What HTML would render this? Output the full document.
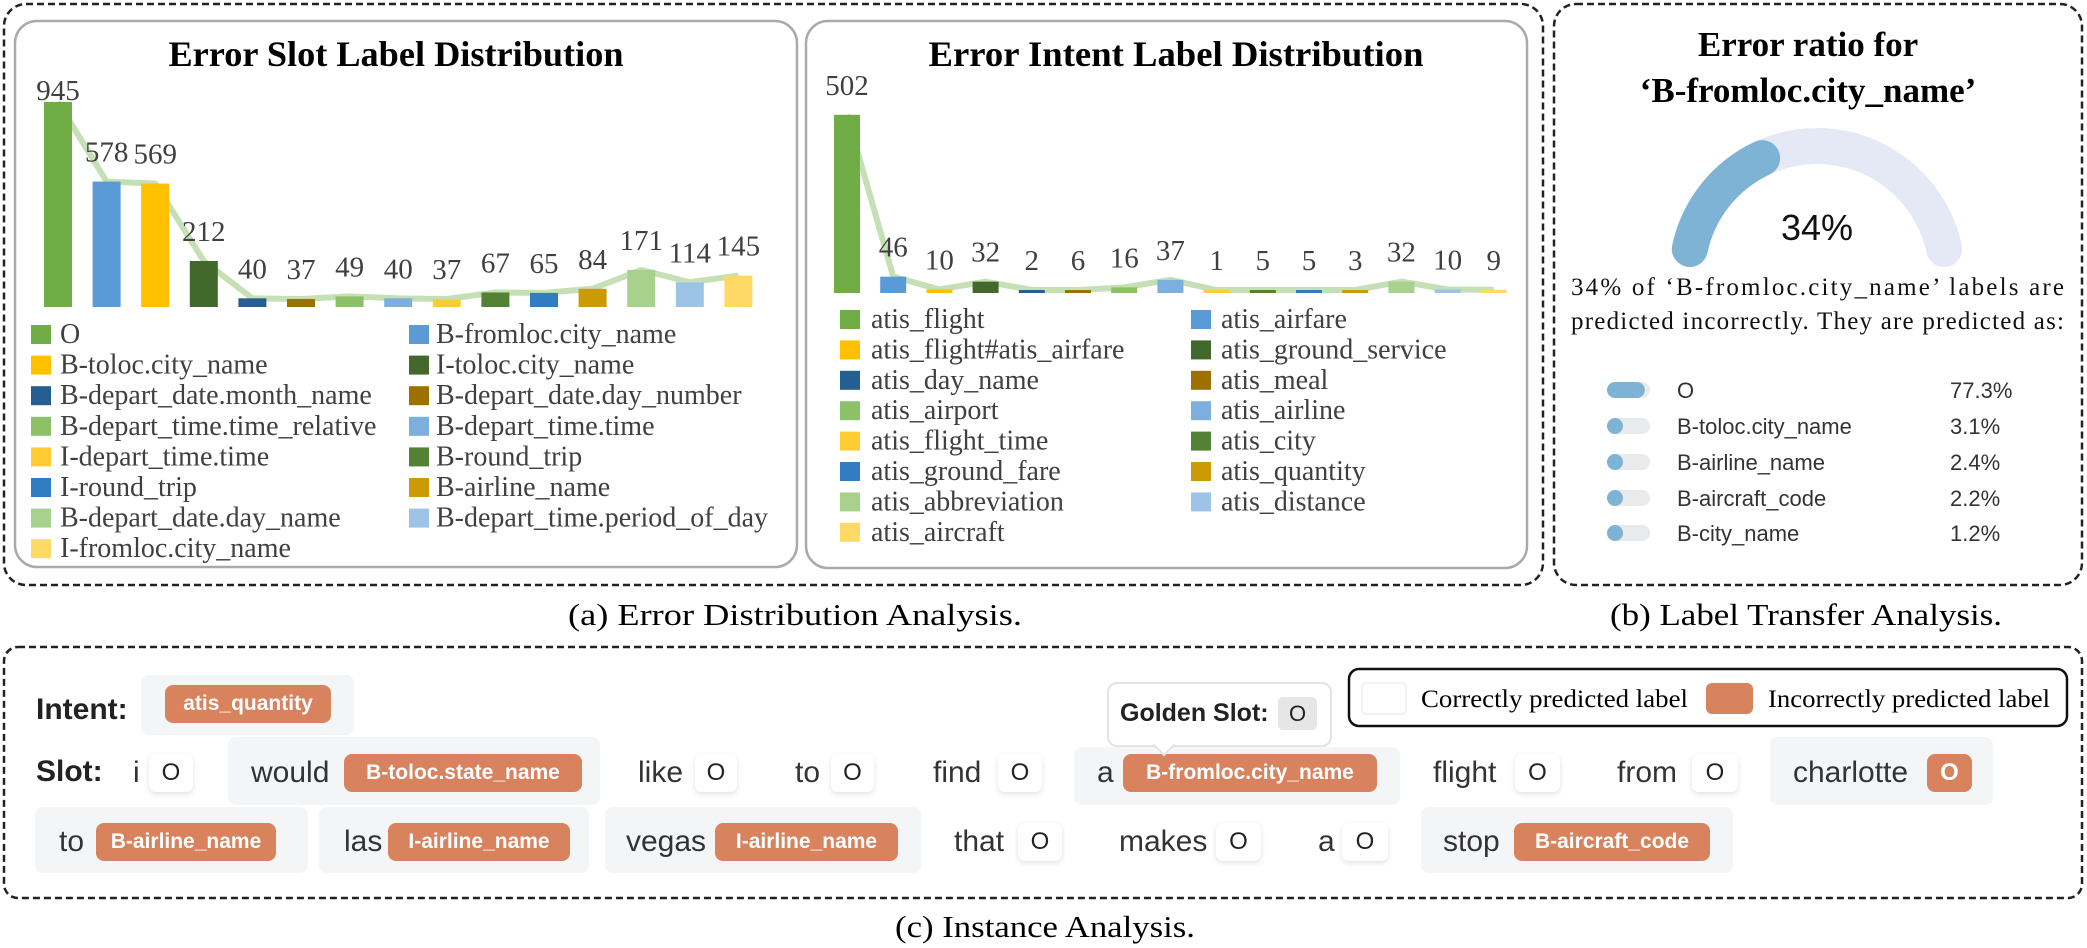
<!DOCTYPE html>
<html><head><meta charset="utf-8">
<style>
html,body{margin:0;padding:0;background:#fff;}
body{width:2087px;height:948px;position:relative;overflow:hidden;font-family:"Liberation Sans",sans-serif;}
svg{position:absolute;left:0;top:0;}
.grp{position:absolute;background:#f4f5f7;border-radius:8px;}
.w{position:absolute;font-size:30px;line-height:38px;height:38px;color:#333;white-space:nowrap;}
.b{position:absolute;font-weight:bold;font-size:30px;line-height:38px;color:#222;white-space:nowrap;}
.ok{position:absolute;background:#fff;border-radius:7px;box-shadow:0 2px 6px rgba(0,0,0,0.12);font-size:24px;line-height:38px;height:38px;text-align:center;color:#222;}
.bad{position:absolute;background:#d9825e;border-radius:8px;font-weight:bold;font-size:21px;line-height:38px;height:38px;text-align:center;color:#fff;white-space:nowrap;}
</style></head>
<body>
<svg id="main" width="2087" height="948" viewBox="0 0 2087 948">
  <rect x="4" y="4" width="1539" height="581" rx="22" fill="none" stroke="#222" stroke-width="2.5" stroke-dasharray="7,4"/>
  <rect x="1554" y="4" width="528" height="581" rx="22" fill="none" stroke="#222" stroke-width="2.5" stroke-dasharray="7,4"/>
  <rect x="4" y="647" width="2078" height="251" rx="14" fill="none" stroke="#222" stroke-width="2.5" stroke-dasharray="7,4"/>
  <rect x="15" y="21" width="782" height="546" rx="22" fill="#fff" stroke="#aaa" stroke-width="2.5"/>
  <rect x="806" y="21" width="721" height="547" rx="22" fill="#fff" stroke="#aaa" stroke-width="2.5"/>
  <text x="396" y="66" text-anchor="middle" font-family="Liberation Serif" font-weight="bold" font-size="36" textLength="455" lengthAdjust="spacingAndGlyphs">Error Slot Label Distribution</text>
  <text x="1176" y="66" text-anchor="middle" font-family="Liberation Serif" font-weight="bold" font-size="36" textLength="495" lengthAdjust="spacingAndGlyphs">Error Intent Label Distribution</text>
  <g id="slotLine"></g><g id="slotBars"></g><g id="slotLegend"></g>
  <g id="intLine"></g><g id="intBars"></g><g id="intLegend"></g>
  <text x="1808" y="56" text-anchor="middle" font-family="Liberation Serif" font-weight="bold" font-size="35">Error ratio for</text>
  <text x="1808" y="102" text-anchor="middle" font-family="Liberation Serif" font-weight="bold" font-size="35">‘B-fromloc.city_name’</text>
  <g id="gauge"></g>
  <text x="1817" y="240" text-anchor="middle" font-family="Liberation Sans" font-size="36" fill="#111">34%</text>
  <text x="1571" y="295" font-family="Liberation Serif" font-size="25" fill="#111" textLength="493" lengthAdjust="spacing">34% of ‘B-fromloc.city_name’ labels are</text>
  <text x="1571" y="329" font-family="Liberation Serif" font-size="25" fill="#111" textLength="493" lengthAdjust="spacing">predicted incorrectly.  They are predicted as:</text>
  <g id="transferList"></g>
  <text x="795" y="625" text-anchor="middle" font-family="Liberation Serif" font-size="31" textLength="454" lengthAdjust="spacingAndGlyphs">(a) Error Distribution Analysis.</text>
  <text x="1806" y="625" text-anchor="middle" font-family="Liberation Serif" font-size="31" textLength="392" lengthAdjust="spacingAndGlyphs">(b) Label Transfer Analysis.</text>
  <text x="1045" y="937" text-anchor="middle" font-family="Liberation Serif" font-size="31" textLength="300" lengthAdjust="spacingAndGlyphs">(c) Instance Analysis.</text>
  <rect x="1349" y="669" width="718" height="57" rx="10" fill="#fff" stroke="#111" stroke-width="2.5"/>
  <rect x="1362" y="683" width="44" height="31" rx="5" fill="#fff" stroke="#eee" stroke-width="1.5"/>
  <text x="1421" y="707" font-family="Liberation Serif" font-size="25" textLength="267" lengthAdjust="spacingAndGlyphs">Correctly  predicted label</text>
  <rect x="1706" y="683" width="47" height="31" rx="6" fill="#d9825e"/>
  <text x="1768" y="707" font-family="Liberation Serif" font-size="25" textLength="282" lengthAdjust="spacingAndGlyphs">Incorrectly  predicted label</text>
</svg>

<div class="b" style="left:36px;top:691px">Intent:</div>
<div class="grp" style="left:141px;top:675px;width:213px;height:60px"></div>
<div class="bad" style="left:165px;top:685px;width:166px">atis_quantity</div>

<div class="b" style="left:36px;top:753px">Slot:</div>
<div class="w" style="left:133px;top:754px">i</div>
<div class="ok" style="left:149px;top:754px;width:44px">O</div>
<div class="grp" style="left:228px;top:737px;width:372px;height:68px"></div>
<div class="w" style="left:251px;top:754px">would</div>
<div class="bad" style="left:344px;top:754px;width:238px">B-toloc.state_name</div>
<div class="w" style="left:638px;top:754px">like</div>
<div class="ok" style="left:695px;top:754px;width:42px">O</div>
<div class="w" style="left:795px;top:754px">to</div>
<div class="ok" style="left:831px;top:754px;width:43px">O</div>
<div class="w" style="left:933px;top:754px">find</div>
<div class="ok" style="left:998px;top:754px;width:44px">O</div>
<div class="grp" style="left:1074px;top:747px;width:326px;height:58px"></div>
<div class="w" style="left:1097px;top:754px">a</div>
<div class="bad" style="left:1123px;top:754px;width:254px">B-fromloc.city_name</div>
<div class="w" style="left:1433px;top:754px">flight</div>
<div class="ok" style="left:1515px;top:754px;width:45px">O</div>
<div class="w" style="left:1617px;top:754px">from</div>
<div class="ok" style="left:1692px;top:754px;width:46px">O</div>
<div class="grp" style="left:1770px;top:737px;width:223px;height:68px"></div>
<div class="w" style="left:1793px;top:754px">charlotte</div>
<div class="bad" style="left:1927px;top:754px;width:45px;font-size:24px">O</div>

<div style="position:absolute;left:1107px;top:682px;width:221px;height:61px;background:#fff;border:2px solid #e4e4e4;border-radius:10px;"></div>
<div style="position:absolute;left:1156px;top:737px;width:14px;height:14px;background:#fff;border-right:2px solid #e4e4e4;border-bottom:2px solid #e4e4e4;transform:rotate(45deg);"></div>
<div class="b" style="left:1120px;top:694px;font-size:25px">Golden Slot:</div>
<div style="position:absolute;left:1278px;top:697px;width:39px;height:33px;background:#e6e6e6;border-radius:5px;font-size:22px;line-height:33px;text-align:center;color:#222">O</div>

<div class="grp" style="left:35px;top:807px;width:273px;height:66px"></div>
<div class="w" style="left:59px;top:823px">to</div>
<div class="bad" style="left:96px;top:823px;width:180px">B-airline_name</div>
<div class="grp" style="left:319px;top:807px;width:270px;height:66px"></div>
<div class="w" style="left:344px;top:823px">las</div>
<div class="bad" style="left:388px;top:823px;width:182px">I-airline_name</div>
<div class="grp" style="left:605px;top:807px;width:316px;height:66px"></div>
<div class="w" style="left:626px;top:823px">vegas</div>
<div class="bad" style="left:715px;top:823px;width:183px">I-airline_name</div>
<div class="w" style="left:954px;top:823px">that</div>
<div class="ok" style="left:1018px;top:823px;width:44px">O</div>
<div class="w" style="left:1119px;top:823px">makes</div>
<div class="ok" style="left:1216px;top:823px;width:45px">O</div>
<div class="w" style="left:1318px;top:823px">a</div>
<div class="ok" style="left:1342px;top:823px;width:46px">O</div>
<div class="grp" style="left:1421px;top:807px;width:312px;height:66px"></div>
<div class="w" style="left:1443px;top:823px">stop</div>
<div class="bad" style="left:1514px;top:823px;width:196px">B-aircraft_code</div>

<script>
const NS = "http://www.w3.org/2000/svg";
const palette = ["#70ad47","#5b9bd5","#ffc000","#43682b","#255e91","#9e7000","#8cc168","#7cafdd","#ffcd33","#548235","#327dc2","#cc9a06","#a9d18e","#9dc3e6","#ffd966"];
const slotLabels = ["O","B-fromloc.city_name","B-toloc.city_name","I-toloc.city_name","B-depart_date.month_name","B-depart_date.day_number","B-depart_time.time_relative","B-depart_time.time","I-depart_time.time","B-round_trip","I-round_trip","B-airline_name","B-depart_date.day_name","B-depart_time.period_of_day","I-fromloc.city_name"];
const slotValues = [945,578,569,212,40,37,49,40,37,67,65,84,171,114,145];
const intentLabels = ["atis_flight","atis_airfare","atis_flight#atis_airfare","atis_ground_service","atis_day_name","atis_meal","atis_airport","atis_airline","atis_flight_time","atis_city","atis_ground_fare","atis_quantity","atis_abbreviation","atis_distance","atis_aircraft"];
const intentValues = [502,46,10,32,2,6,16,37,1,5,5,3,32,10,9];
const errorRatio = [34];
const transferLabels = ["O","B-toloc.city_name","B-airline_name","B-aircraft_code","B-city_name"];
const transferValues = [77.3,3.1,2.4,2.2,1.2];

function mk(tag, attrs, parent){const e=document.createElementNS(NS,tag);for(const k in attrs)e.setAttribute(k,attrs[k]);parent.appendChild(e);return e;}

function drawChart(cfg){
  const {labels,values,x0,step,bw,base,scale,labelMin,lineG,barG,legG,legY0,legStep,col1Sq,col1Tx,col2Sq,col2Tx,prefix} = cfg;
  const xS = i => x0 + i*step;
  const yS = v => base - Math.max(v*scale, 3);
  const pts = values.map((v,i)=> (xS(i)+bw/2)+","+yS(v)).join(" ");
  const pl = mk("polyline",{points:pts,fill:"none",stroke:"#c5e0b4","stroke-width":6,"stroke-linejoin":"round"},lineG);
  
  
  values.forEach((v,i)=>{
    const r = mk("rect",{x:xS(i),y:yS(v),width:bw,height:base-yS(v),fill:palette[i]},barG);
    
    
    const t = mk("text",{x:xS(i)+bw/2,y:Math.max(yS(v)-20,labelMin),"text-anchor":"middle","font-family":"Liberation Serif","font-size":29,fill:"#404040"},barG);
    t.textContent = v;
    
    
  });
  labels.forEach((lab,i)=>{
    const col = i%2, row = Math.floor(i/2);
    const cy = legY0 + row*legStep;
    const sq = mk("rect",{x:col?col2Sq:col1Sq,y:cy-9,width:20,height:19,fill:palette[i]},legG);
    
    
    const t = mk("text",{x:col?col2Tx:col1Tx,y:cy+9,"font-family":"Liberation Serif","font-size":28,fill:"#404040"},legG);
    t.textContent = lab;
    
    
  });
}
drawChart({labels:slotLabels,values:slotValues,x0:44,step:48.6,bw:28,base:307,scale:0.217,labelMin:100,
  lineG:document.getElementById("slotLine"),barG:document.getElementById("slotBars"),legG:document.getElementById("slotLegend"),
  legY0:334,legStep:30.6,col1Sq:31,col1Tx:60,col2Sq:409,col2Tx:436,prefix:"slot"});
drawChart({labels:intentLabels,values:intentValues,x0:834,step:46.2,bw:26,base:293,scale:0.355,labelMin:93,
  lineG:document.getElementById("intLine"),barG:document.getElementById("intBars"),legG:document.getElementById("intLegend"),
  legY0:319,legStep:30.4,col1Sq:840,col1Tx:871,col2Sq:1191,col2Tx:1221,prefix:"intent"});

(function(){
  const g=document.getElementById("gauge");
  const cx=1817, cy=276, r=130, a0=168, a1=12;
  const P=a=>[cx+r*Math.cos(a*Math.PI/180), cy-r*Math.sin(a*Math.PI/180)];
  const arc=(s,e)=>{const p=P(s),q=P(e);return "M"+p[0]+","+p[1]+" A"+r+","+r+" 0 0 1 "+q[0]+","+q[1];};
  const bg=mk("path",{d:arc(a0,a1),fill:"none",stroke:"#e4e9f5","stroke-width":36,"stroke-linecap":"round"},g);
  
  
  const aEnd = a0 - (a0-a1)*errorRatio[0]/100;
  const fg=mk("path",{d:arc(a0,aEnd),fill:"none",stroke:"#7fb3d5","stroke-width":36,"stroke-linecap":"round"},g);
  
  
})();

(function(){
  const g=document.getElementById("transferList");
  const rows=[390,426,462,498,533];
  transferLabels.forEach((lab,i)=>{
    const y=rows[i];
    const tr=mk("rect",{x:1607,y:y-8,width:43,height:16,rx:8,fill:"#e9eaec"},g);
    
    
    const w=Math.max(16, 43*transferValues[i]/77.3*0.88);
    const f=mk("rect",{x:1607,y:y-8,width:w,height:16,rx:8,fill:"#7fb3d5"},g);
    
    
    const t=mk("text",{x:1677,y:y+8,"font-family":"Liberation Sans","font-size":22,fill:"#333"},g);
    t.textContent=lab;
    
    
    const p=mk("text",{x:1950,y:y+8,"font-family":"Liberation Sans","font-size":22,fill:"#333"},g);
    p.textContent=transferValues[i]+"%";
    
    
  });
})();
</script>
</body></html>
